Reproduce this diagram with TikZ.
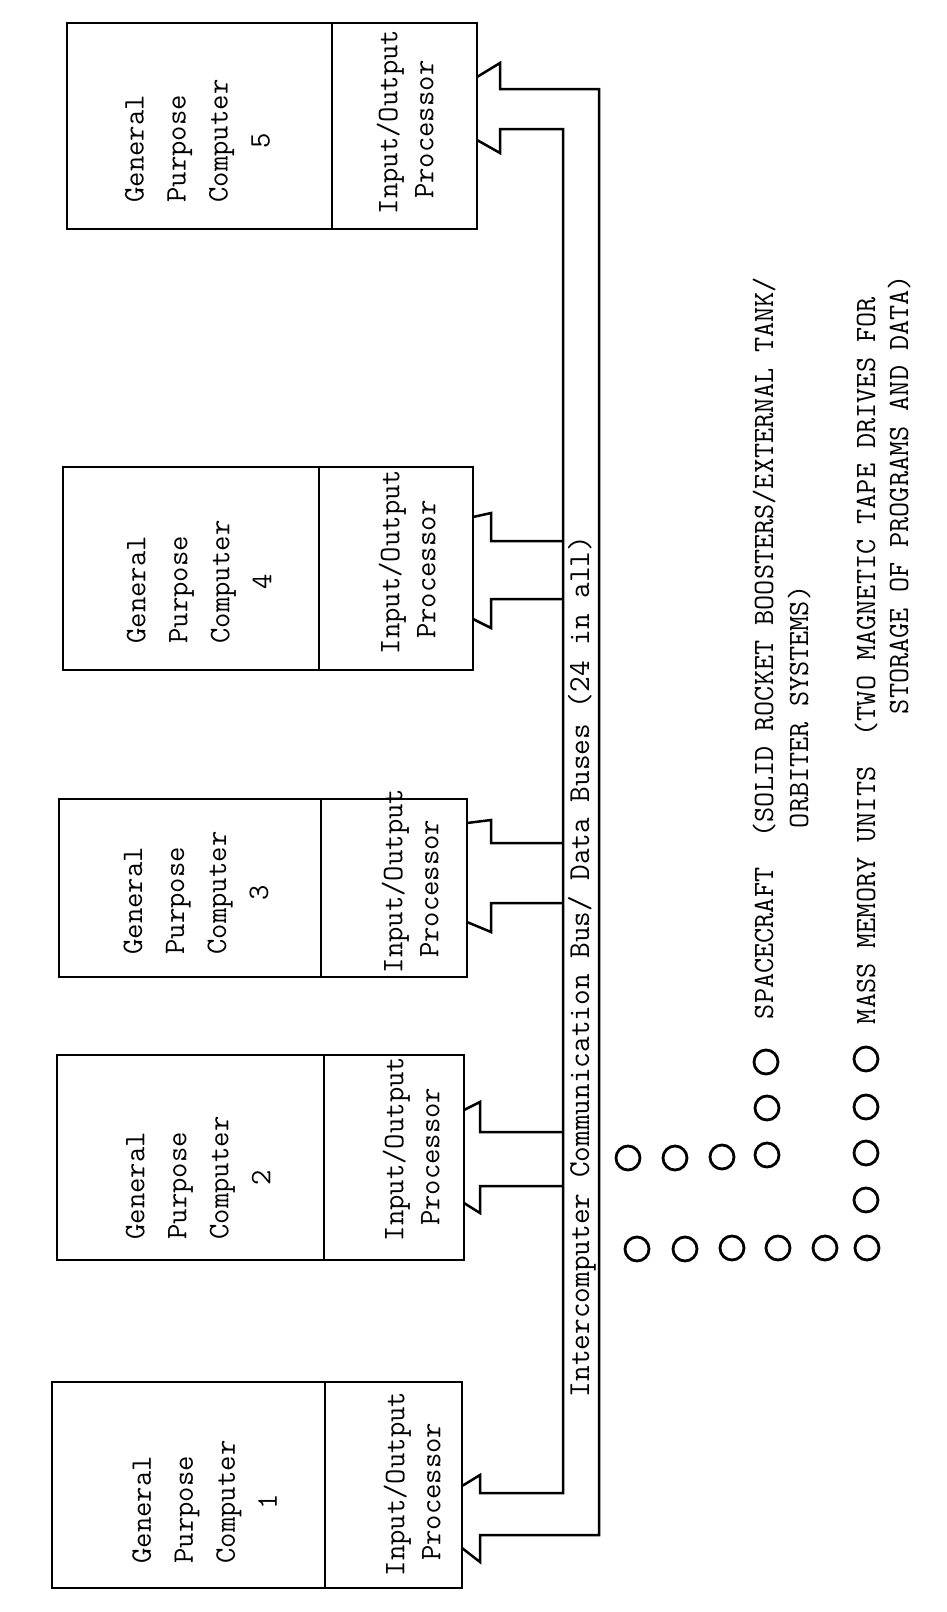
\documentclass[tikz,border=0pt]{standalone}
\newcommand\gpcunit[6]{% #1 index, #2 left, #3 top, #4 divider, #5 right, #6 bottom
  \node[frame, minimum width={(#4-#2)*0.5pt}, minimum height={(#6-#3)*0.5pt}] (g#1) at (#2,#3) {};
  \node[frame, minimum width={(#5-#4)*0.5pt}, minimum height={(#6-#3)*0.5pt}] (p#1) at (#4,#3) {};
}
\begin{document}
\begin{tikzpicture}[x=0.5pt,y=-0.5pt,
  frame/.style={draw, line width=1.25pt, inner sep=0pt, outer sep=0pt, anchor=north west},
  typed/.style={font=\fontsize{14.9}{21}\selectfont\ttfamily, inner sep=0pt, outer sep=0pt, rotate=90},
  gtext/.style={typed, align=left},
  ptext/.style={font=\fontsize{14.9}{18}\selectfont\ttfamily, inner sep=0pt, outer sep=0pt, rotate=90, align=left},
  lbl/.style={typed, anchor=base west},
  buslbl/.style={lbl, font=\fontsize{15.2}{18}\selectfont\ttfamily},
  legend/.style={lbl, font=\fontsize{14.7}{18}\selectfont\ttfamily},
  bus/.style={line width=1.25pt, line join=miter},
  dot/.style={draw, circle, line width=1.4pt, minimum size=12pt, inner sep=0pt}]

\fill[white] (0,0) rectangle (947,1612);
\useasboundingbox (0,0) rectangle (947,1612);

% computer units: general purpose computer + input/output processor
\gpcunit{5}{67}{23}{332}{477}{229}
\gpcunit{4}{63}{467}{319}{473}{670}
\gpcunit{3}{59}{799}{321}{467}{977}
\gpcunit{2}{57}{1055}{324}{464}{1260}
\gpcunit{1}{52}{1382}{325}{462}{1588}

\node[gtext] (gt5) at (197.5,141) {General\\Purpose\\Computer\\\hspace*{1.8em}5};
\node[gtext] (gt4) at (199,582) {General\\Purpose\\Computer\\\hspace*{1.8em}4};
\node[gtext] (gt3) at (196,893) {General\\Purpose\\Computer\\\hspace*{1.8em}3};
\node[gtext] (gt2) at (198,1178) {General\\Purpose\\Computer\\\hspace*{1.8em}2};
\node[gtext] (gt1) at (204.5,1502) {General\\Purpose\\Computer\\\hspace*{1.8em}1};

\node[ptext] (pt5) at (405,122) {Input/Output\\\hspace*{0.514em}Processor};
\node[ptext] (pt4) at (407,562) {Input/Output\\\hspace*{0.514em}Processor};
\node[ptext] (pt3) at (410,881) {Input/Output\\\hspace*{0.514em}Processor};
\node[ptext] (pt2) at (411,1149) {Input/Output\\\hspace*{0.514em}Processor};
\node[ptext] (pt1) at (412,1484) {Input/Output\\\hspace*{0.514em}Processor};

% the two bus lines
\coordinate (ibtop) at (563,129);
\coordinate (ibbot) at (563,1493);
\coordinate (obtop) at (599,89);
\coordinate (obbot) at (599,1535);

% outer line: lower side of unit 1 arrow, upper side of unit 5 arrow
\draw[bus] (p1.east |- 0,1548) -- (480,1562) -- (480,1535) -- (obbot) -- (obtop)
  -- (500,89) -- (500,63) -- (p5.east |- 0,77);
% inner line: upper side of unit 1 arrow, lower side of unit 5 arrow
\draw[bus] (p1.east |- 0,1486) -- (480,1475) -- (480,1493) -- (ibbot) -- (ibtop)
  -- (500,129) -- (500,153) -- (p5.east |- 0,140);

% branch arrows into units 2-4
\draw[bus] (ibtop |- 0,541) -- (491,541) -- (491,513) -- (p4.east |- 0,517);
\draw[bus] (ibtop |- 0,599) -- (491,599) -- (491,628) -- (p4.east |- 0,619);
\draw[bus] (ibtop |- 0,843) -- (491,843) -- (491,820) -- (p3.east |- 0,823);
\draw[bus] (ibtop |- 0,903) -- (491,903) -- (491,932) -- (p3.east |- 0,922);
\draw[bus] (ibtop |- 0,1132) -- (480,1132) -- (480,1102) -- (p2.east |- 0,1110);
\draw[bus] (ibtop |- 0,1186) -- (480,1186) -- (480,1213) -- (p2.east |- 0,1203);

\node[buslbl] (bt) at (589,1397) {Intercomputer Communication Bus/ Data Buses (24 in all)};

% peripheral circles
\foreach \n/\x/\y in {a1/628/1158, a2/675/1158, a3/722/1157, a4/767/1155, a5/767/1108, a6/766/1062,
  b1/637/1249, b2/685/1249, b3/732/1248, b4/778/1248, b5/825/1248, b6/867/1248,
  b7/866/1200, b8/866/1153, b9/866/1107, b10/866/1059}
  \node[dot] (c\n) at (\x,\y) {};

\node[legend] (l1) at (773,1019) {SPACECRAFT\ \ (SOLID ROCKET BOOSTERS/EXTERNAL TANK/};
\node[legend] (l2) at (808,828) {ORBITER SYSTEMS)};
\node[legend] (l3) at (875,1024) {MASS MEMORY UNITS\ \ (TWO MAGNETIC TAPE DRIVES FOR};
\node[legend] (l4) at (908,714) {STORAGE OF PROGRAMS AND DATA)};
\end{tikzpicture}
\end{document}
